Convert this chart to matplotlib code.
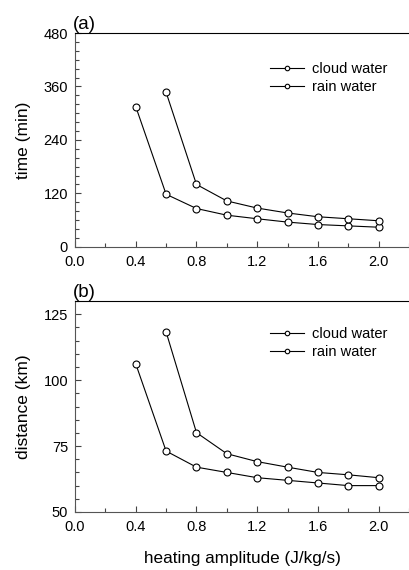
import numpy as np
import matplotlib
matplotlib.use("Agg")
import matplotlib.pyplot as plt
from matplotlib.ticker import MultipleLocator

plt.rcParams["font.family"] = ["Liberation Sans", "DejaVu Sans"]

# heating amplitude (J/kg/s)
amp_cloud = [0.4, 0.6, 0.8, 1.0, 1.2, 1.4, 1.6, 1.8, 2.0]
amp_rain = [0.6, 0.8, 1.0, 1.2, 1.4, 1.6, 1.8, 2.0]

# (a) time (min)
time_cloud = [315, 118, 86, 71, 63, 55.5, 50, 47, 44]
time_rain = [347, 140, 103, 87, 76, 67.5, 63, 58.5]

# (b) distance (km)
dist_cloud = [106.2, 73.1, 67.0, 65.0, 63.0, 62.0, 61.0, 60.0, 60.0]
dist_rain = [118.3, 80.1, 72.1, 69.1, 67.0, 65.0, 64.1, 63.0]

fig = plt.figure(figsize=(4.09, 5.70), dpi=100)
ax1 = fig.add_axes([0.1834, 0.567, 0.8166, 0.375])
ax2 = fig.add_axes([0.1834, 0.1018, 0.8166, 0.370])

style = dict(color="black", lw=0.8, marker="o", ms=5, mfc="white",
             mec="black", mew=0.8)


def setup(ax, ylim, major, minor, ylabel, tag, leg_y):
    ax.set_xlim(0, 2.2)
    ax.set_ylim(*ylim)
    ax.xaxis.set_major_locator(MultipleLocator(0.4))
    ax.xaxis.set_minor_locator(MultipleLocator(0.2))
    ax.yaxis.set_major_locator(MultipleLocator(major))
    ax.yaxis.set_minor_locator(MultipleLocator(minor))
    ax.xaxis.set_major_formatter(plt.FuncFormatter(lambda v, p: f"{v:.1f}"))
    ax.tick_params(which="both", direction="in", top=False, right=False,
                   labelsize=10.5, colors="#444444", labelcolor="black",
                   width=0.8)
    ax.tick_params(which="major", length=4)
    ax.tick_params(which="minor", length=3)
    ax.tick_params(axis="x", which="major", pad=6)
    ax.tick_params(axis="y", which="major", pad=5)
    ax.spines["right"].set_visible(False)
    for s in ["left", "bottom"]:
        ax.spines[s].set_color("#555555")
    ax.spines["top"].set_color("black")
    ax.set_ylabel(ylabel, fontsize=12.5, labelpad=9)
    ax.text(-0.006, 1.0, tag, transform=ax.transAxes, fontsize=13.5,
            ha="left", va="bottom")
    ax.legend(frameon=False, fontsize=10.5, handlelength=2.3,
              loc="upper left", bbox_to_anchor=(0.584, leg_y),
              borderaxespad=0, borderpad=0, markerscale=0.65,
              labelspacing=0.28, handletextpad=0.6)


ax1.plot(amp_cloud, time_cloud, label="cloud water", **style)
ax1.plot(amp_rain, time_rain, label="rain water", **style)
setup(ax1, (0, 480), 120, 20, "time (min)", "(a)", 0.866)

ax2.plot(amp_cloud, dist_cloud, label="cloud water", **style)
ax2.plot(amp_rain, dist_rain, label="rain water", **style)
setup(ax2, (50, 130), 25, 5, "distance (km)", "(b)", 0.878)
ax2.set_xlabel("heating amplitude (J/kg/s)", fontsize=12.3, labelpad=12)

fig.savefig("out.png", dpi=100)
